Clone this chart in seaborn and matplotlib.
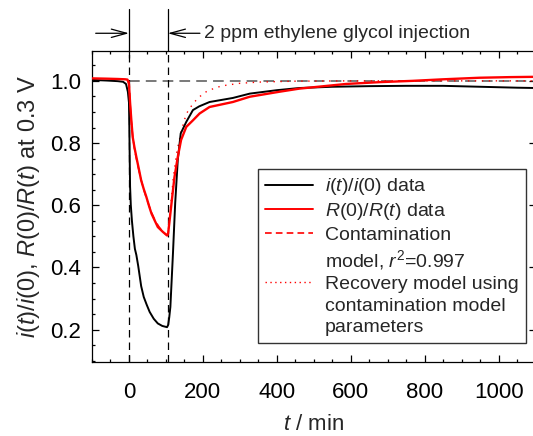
import numpy as np
import pandas as pd
import matplotlib
matplotlib.use("Agg")
import matplotlib.pyplot as plt
from matplotlib.lines import Line2D
from matplotlib.ticker import MultipleLocator
import seaborn as sns

# ---------------- data ----------------
black_t = [-100, -60, -30, -16, -8, -3, 0, 1, 2, 3, 5, 8, 12, 16, 20, 25, 33, 40, 48, 56, 67, 78,
           90, 103, 106, 109, 112, 119, 125, 132, 140, 155, 173, 190, 218, 281, 327, 400, 461,
           550, 650, 750, 850, 950, 1050, 1100]
black_v = [1.003, 1.001, 0.999, 0.997, 0.99, 0.965, 0.93, 0.85, 0.75, 0.66, 0.60, 0.55, 0.50, 0.46,
           0.44, 0.405, 0.34, 0.305, 0.28, 0.257, 0.235, 0.22, 0.212, 0.208, 0.215, 0.24, 0.273,
           0.445, 0.606, 0.745, 0.831, 0.868, 0.906, 0.918, 0.932, 0.945, 0.959, 0.97, 0.977,
           0.981, 0.983, 0.984, 0.984, 0.981, 0.978, 0.977]

red_t = [-100, -60, -30, -10, -4, 0, 3, 6, 10, 15, 20, 27, 33, 40, 47, 55, 61, 70, 78, 92, 103,
         106, 110, 116, 123, 132, 141, 146, 155, 173, 191, 218, 281, 327, 407, 461, 587, 680,
         767, 850, 948, 1030, 1100]
red_v = [1.008, 1.007, 1.006, 1.005, 1.004, 0.99, 0.93, 0.88, 0.82, 0.785, 0.755, 0.715, 0.68,
         0.652, 0.627, 0.595, 0.573, 0.55, 0.53, 0.514, 0.503, 0.51, 0.552, 0.616, 0.69, 0.755,
         0.81, 0.825, 0.852, 0.873, 0.895, 0.916, 0.932, 0.949, 0.965, 0.975, 0.99, 0.996,
         1.0, 1.005, 1.01, 1.012, 1.013]

contam_t = [0, 3, 6, 10, 15, 20, 30, 40, 50, 60, 70, 80, 90, 100, 105]
contam_v = [1.0, 0.93, 0.875, 0.825, 0.78, 0.75, 0.695, 0.65, 0.613, 0.58, 0.553, 0.533,
            0.517, 0.506, 0.502]

recov_t = [105, 110, 120, 130, 140, 150, 160, 177, 191, 209, 236, 263, 299, 350, 450,
           600, 800, 1100]
recov_v = [0.502, 0.56, 0.69, 0.775, 0.83, 0.875, 0.905, 0.932, 0.949, 0.965, 0.979,
           0.986, 0.992, 0.996, 0.999, 1.0, 1.0, 1.0]

injection_t = [0, 105]
baseline = 1.0

legend_labels = [r"$i$($t$)/$i$(0) data", r"$R$(0)/$R$($t$) data", "Contamination",
                 r"model, $r^2$=0.997", "Recovery model using", "contamination model",
                 "parameters"]
annotation_text = "2 ppm ethylene glycol injection"
x_label = r"$t$ / min"
y_label = r"$i$($t$)/$i$(0), $R$(0)/$R$($t$) at 0.3 V"

# ---------------- style ----------------
sns.set_style("ticks")
plt.rcParams["font.family"] = ["Liberation Sans", "DejaVu Sans"]
plt.rcParams["mathtext.fontset"] = "custom"
plt.rcParams["mathtext.rm"] = "Liberation Sans"
plt.rcParams["mathtext.it"] = "Liberation Sans:italic"
plt.rcParams["mathtext.bf"] = "Liberation Sans:bold"

fig = plt.figure(figsize=(5.33, 4.36), dpi=100)
ax = fig.add_axes([92 / 533, 74 / 436, 443.6 / 533, 311 / 436])

df_black = pd.DataFrame({"t": black_t, "v": black_v})
df_red = pd.DataFrame({"t": red_t, "v": red_v})
df_contam = pd.DataFrame({"t": contam_t, "v": contam_v})
df_recov = pd.DataFrame({"t": recov_t, "v": recov_v})

# reference lines
ax.axhline(baseline, xmin=(0 + 100) / 1200, xmax=1, color="#555555", lw=1.1,
           linestyle=(0, (7, 4)), zorder=1)
for tx in injection_t:
    ax.axvline(tx, color="black", lw=0.9, linestyle=(0, (6, 4)), zorder=1)
    ax.plot([tx, tx], [1.096, 1.23], color="black", lw=0.9, clip_on=False)

sns.lineplot(data=df_recov, x="t", y="v", ax=ax, color="red", lw=1.0,
             linestyle=(0, (1, 4)), estimator=None, sort=False, zorder=2)
sns.lineplot(data=df_black, x="t", y="v", ax=ax, color="black", lw=1.4,
             estimator=None, sort=False, zorder=3)
sns.lineplot(data=df_red, x="t", y="v", ax=ax, color="red", lw=1.7,
             estimator=None, sort=False, zorder=4)
sns.lineplot(data=df_contam, x="t", y="v", ax=ax, color="red", lw=1.1,
             linestyle=(0, (5, 3)), estimator=None, sort=False, zorder=5)

ax.set_xlim(-100, 1100)
ax.set_ylim(0.096, 1.096)
ax.xaxis.set_major_locator(MultipleLocator(200))
ax.xaxis.set_minor_locator(MultipleLocator(50))
ax.yaxis.set_major_locator(MultipleLocator(0.2))
ax.yaxis.set_minor_locator(MultipleLocator(0.05))
ax.set_yticks([0.2, 0.4, 0.6, 0.8, 1.0])
ax.set_yticklabels(["0.2", "0.4", "0.6", "0.8", "1.0"])
ax.tick_params(which="both", direction="in", top=True, right=True, colors="black")
ax.tick_params(which="major", length=5, width=0.9, labelsize=16)
ax.tick_params(axis="y", which="major", pad=8)
ax.tick_params(axis="x", which="major", pad=14.5)
ax.tick_params(which="minor", length=2.5, width=0.9)
for s in ax.spines.values():
    s.set_linewidth(0.9)
    s.set_color("black")

ax.set_xlabel(x_label, fontsize=16, labelpad=8)
ax.set_ylabel(y_label, fontsize=17, labelpad=6)

# annotation arrows
arrow_y = 1.153
ax.annotate("", xy=(0, arrow_y), xytext=(-90, arrow_y), annotation_clip=False,
            arrowprops=dict(arrowstyle="->,head_length=1.1,head_width=0.3", lw=0.9,
                            color="black", shrinkA=0, shrinkB=0))
ax.annotate("", xy=(105, arrow_y), xytext=(192, arrow_y), annotation_clip=False,
            arrowprops=dict(arrowstyle="->,head_length=1.1,head_width=0.3", lw=0.9,
                            color="black", shrinkA=0, shrinkB=0))
ax.text(203, arrow_y, annotation_text, fontsize=14, va="center", ha="left",
        clip_on=False)

# legend
handles = [
    Line2D([], [], color="black", lw=1.4),
    Line2D([], [], color="red", lw=1.4),
    Line2D([], [], color="red", lw=1.2, linestyle=(0, (4, 2.5))),
    Line2D([], [], color="none"),
    Line2D([], [], color="red", lw=1.0, linestyle=(0, (1, 2.5))),
    Line2D([], [], color="none"),
    Line2D([], [], color="none"),
]
leg = ax.legend(handles, legend_labels, loc="upper left",
                bbox_to_anchor=(258 / 533, 1 - 169 / 436), bbox_transform=fig.transFigure,
                fontsize=14, frameon=True, fancybox=False, handlelength=2.45,
                handletextpad=0.62, labelspacing=0.2, borderpad=0.38, borderaxespad=0)
leg.get_frame().set_edgecolor("#333333")
leg.get_frame().set_linewidth(1.0)
leg.get_frame().set_facecolor("white")
leg.get_frame().set_alpha(1)

fig.savefig("out.png", dpi=100)
